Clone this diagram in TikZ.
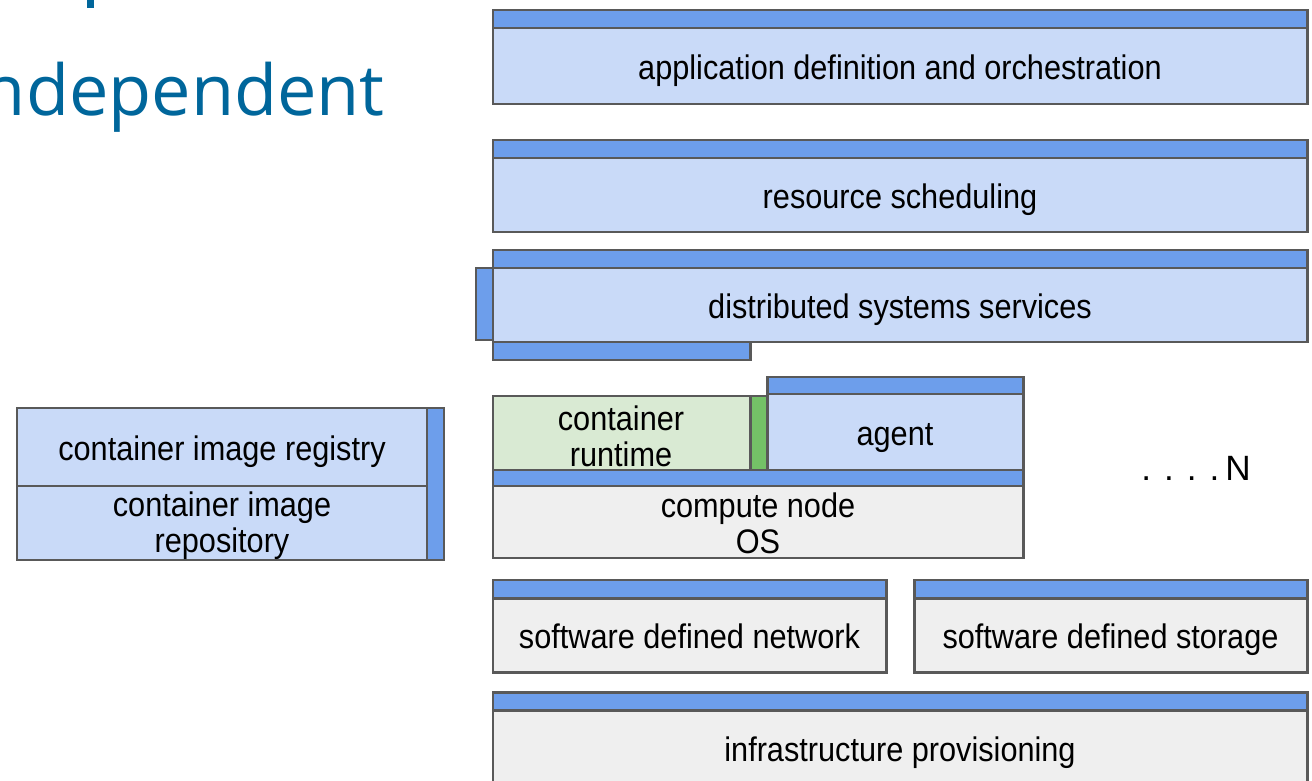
\documentclass[tikz,border=0pt]{standalone}
\usepackage{fontspec}
\setmainfont{Liberation Sans}[FakeStretch=0.9]
\newfontfamily\plainfont{Liberation Sans}
\newfontfamily\titlefont{Open Sans}
\definecolor{stripblue}{HTML}{6D9EEB}
\definecolor{paleblue}{HTML}{C9DAF8}
\definecolor{palegray}{HTML}{EFEFEF}
\definecolor{palegreen}{HTML}{D9EAD3}
\definecolor{stripgreen}{HTML}{74C167}
\definecolor{edgegray}{HTML}{595959}
\definecolor{titleblue}{HTML}{00669B}

\begin{document}
\begin{tikzpicture}[x=0.02cm, y=-0.02cm,
    box/.style={draw=edgegray, line width=1.7pt},
    layertext/.style={align=center, font=\fontsize{19.4}{20.5}\selectfont},
    onerow/.style={layertext, text height=17pt, text depth=1.5pt}]
        \useasboundingbox (0,0) rectangle (1312,781);

        % Title fragment cut by the slide edge
        \fill[titleblue] (87,0) rectangle (94,8);
        \node[anchor=base east, inner sep=0pt, text=titleblue,
              font=\titlefont\fontsize{40}{48}\selectfont] (title) at (385,115) {ndependent};

        % Extra tabs of the distributed layer
        \draw[box, fill=stripblue] (476,268) rectangle (493,340);
        \draw[box, fill=stripblue] (493,342) rectangle (750,360);

        % Full width blue layers
        \foreach \ya/\yb/\nm/\txt in {10/104/app/application definition and orchestration,
                                     140/232/sched/resource scheduling,
                                     250/342/dist/distributed systems services} {
            \draw[box, fill=stripblue] (493,\ya) rectangle (1307,\ya+18);
            \draw[box, fill=paleblue] (493,\ya+18) rectangle (1307,\yb);
            \node[onerow] (\nm) at (900,{(\ya+18+\yb)/2}) {\txt};
        }

        % Compute node with runtime and agent
        \draw[box, fill=stripblue] (767,377) rectangle (1023,394);
        \draw[box, fill=paleblue] (767,394) rectangle (1023,470);
        \node[onerow] (agent) at (895,432) {agent};
        \draw[box, fill=palegreen] (493,396) rectangle (750,470);
        \draw[box, fill=stripgreen] (750,396) rectangle (767,470);
        \node[layertext] (runtime) at (621,436) {container\\runtime};
        \draw[box, fill=stripblue] (493,470) rectangle (1023,486);
        \draw[box, fill=palegray] (493,486) rectangle (1023,558);
        \node[layertext] (compute) at (758,523) {compute node\\OS};
        \node[font=\plainfont\fontsize{20}{24}\selectfont] (more) at (1196,468) {. . . .\,N};

        % Image registry on the left
        \draw[box, fill=paleblue] (17,408) rectangle (427,486);
        \draw[box, fill=paleblue] (17,486) rectangle (427,560);
        \draw[box, fill=stripblue] (427,408) rectangle (444,560);
        \node[onerow] (registry) at (222,447) {container image registry};
        \node[layertext] (repo) at (222,526) {container image\\repository};

        % Software defined network and storage
        \foreach \xa/\xb/\nm/\txt in {493/886/sdn/software defined network,
                                     914/1307/sds/software defined storage} {
            \draw[box, fill=stripblue] (\xa,580) rectangle (\xb,598);
            \draw[box, fill=palegray] (\xa,598) rectangle (\xb,672);
            \node[onerow] (\nm) at ({(\xa+\xb)/2},635) {\txt};
        }

        % Infrastructure at the bottom
        \draw[box, fill=stripblue] (493,692) rectangle (1307,710);
        \draw[box, fill=palegray] (493,710) rectangle (1307,790);
        \node[onerow] (infra) at (900,748) {infrastructure provisioning};
    \end{tikzpicture}
\end{document}
